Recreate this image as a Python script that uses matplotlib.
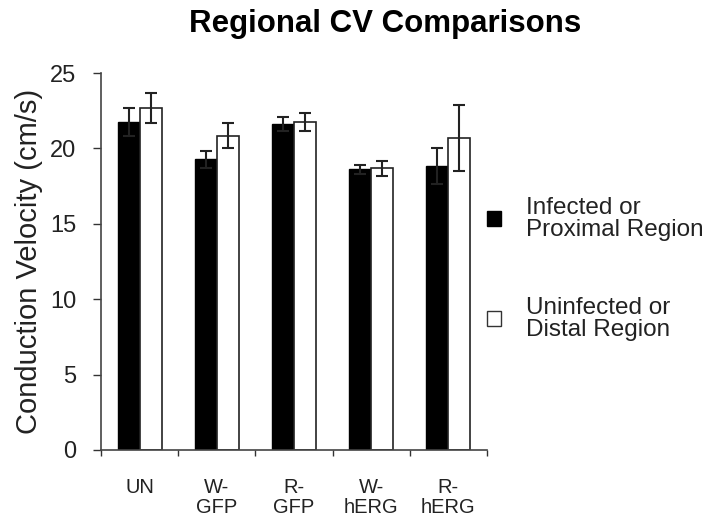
import numpy as np
import matplotlib.pyplot as plt
from matplotlib.patches import Patch

plt.rcParams['font.family'] = ['Liberation Sans', 'DejaVu Sans']

groups = ['UN', 'W-\nGFP', 'R-\nGFP', 'W-\nhERG', 'R-\nhERG']
infected = [21.75, 19.28, 21.6, 18.61, 18.83]
infected_err = [0.93, 0.55, 0.46, 0.29, 1.22]
uninfected = [22.7, 20.84, 21.75, 18.68, 20.69]
uninfected_err = [0.99, 0.82, 0.58, 0.48, 2.19]
legend_labels = ['Infected or\nProximal Region', 'Uninfected or\nDistal Region']

fig = plt.figure(figsize=(7.08, 5.25), dpi=100)
ax = fig.add_axes([0.1427, 0.1429, 0.545, 0.718])

x = np.arange(len(groups))
w = 0.285
err_kw = dict(ecolor='#222222', elinewidth=1.5, capthick=1.5, capsize=4.3)
ax.bar(x - w / 2, infected, w, yerr=infected_err, color='black',
       edgecolor='black', linewidth=1, error_kw=err_kw)
ax.bar(x + w / 2, uninfected, w, yerr=uninfected_err, color='white',
       edgecolor='#222222', linewidth=1.2, error_kw=err_kw)

ax.set_xlim(-0.5, len(groups) - 0.5)
ax.set_ylim(0, 25)
ax.set_yticks([0, 5, 10, 15, 20, 25])
ax.tick_params(axis='y', labelsize=17, length=6, width=1, pad=12,
               colors='#333333', labelcolor='#222222')

ax.set_xticks(x)
ax.set_xticklabels(groups, fontsize=14.5, va='top', linespacing=1.05,
                   color='#222222')
ax.tick_params(axis='x', which='major', length=0, pad=20)
ax.set_xticks(np.arange(-0.5, len(groups)), minor=True)
ax.tick_params(axis='x', which='minor', length=4, width=1, colors='#333333')

for s in ['top', 'right']:
    ax.spines[s].set_visible(False)
for s in ['left', 'bottom']:
    ax.spines[s].set_color('#444444')
    ax.spines[s].set_linewidth(1.2)

ax.set_ylabel('Conduction Velocity (cm/s)', fontsize=21, labelpad=5,
              color='#222222')
fig.text(385 / 708, 1 - 32 / 525, 'Regional CV Comparisons', fontsize=22.5,
         fontweight='bold', ha='center', va='baseline')

handles = [Patch(facecolor='black', edgecolor='black'),
           Patch(facecolor='white', edgecolor='#333333')]
leg = fig.legend(handles, legend_labels, loc='center left',
                 bbox_to_anchor=(0.674, 0.488), frameon=False, fontsize=17.5,
                 handlelength=0.6, handleheight=0.6, handletextpad=1.0,
                 labelspacing=2.3, borderaxespad=0)
for t in leg.get_texts():
    t.set_linespacing(1.0)
    t.set_color('#222222')

fig.savefig('out.png', dpi=100)
